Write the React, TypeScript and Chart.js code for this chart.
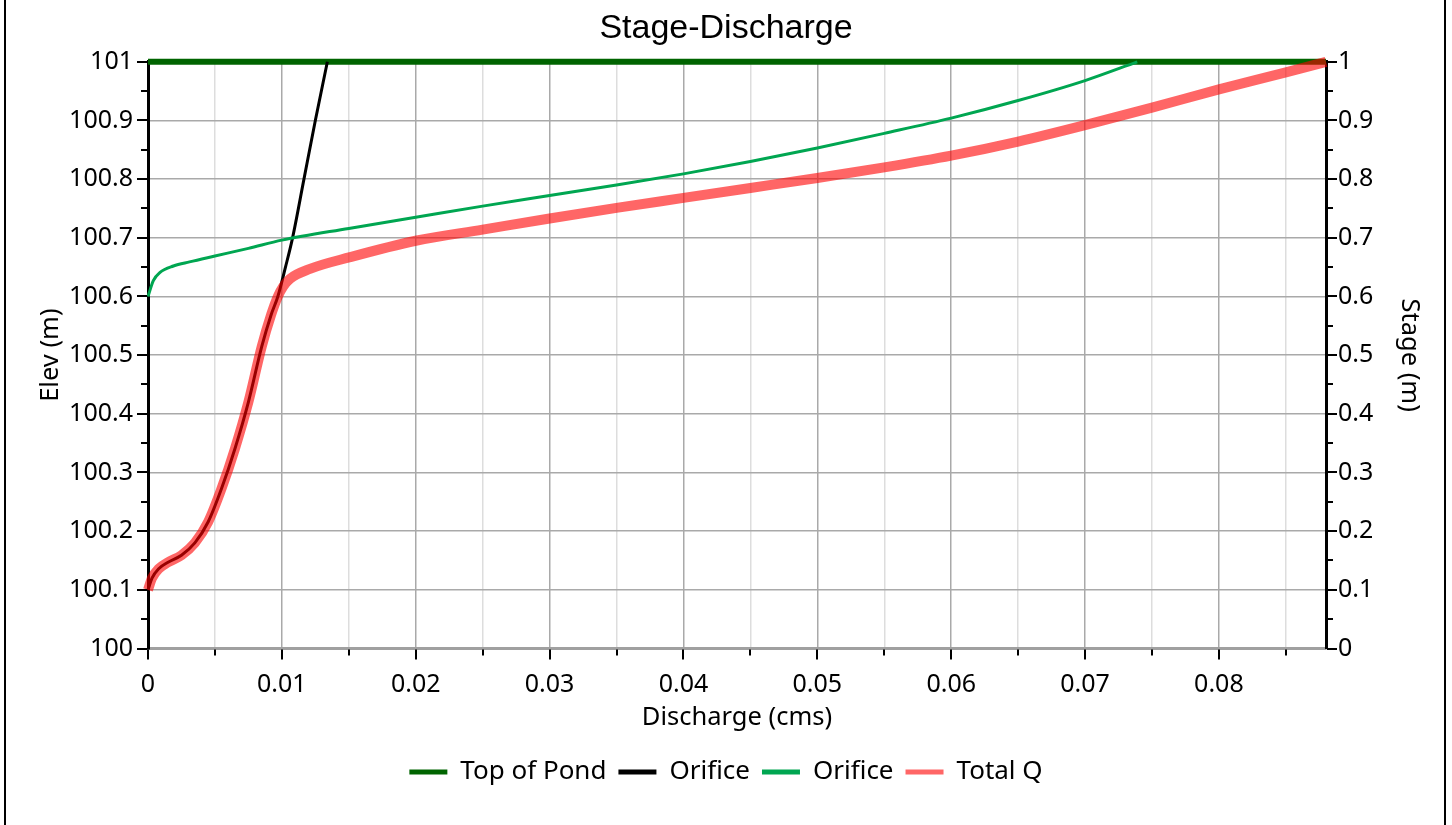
import { useEffect, useRef } from 'react';
import { Chart, registerables } from 'chart.js';

Chart.register(...registerables);

const chartTitle = 'Stage-Discharge';
const xAxisTitle = 'Discharge (cms)';
const yAxisTitle = 'Elev (m)';
const stageAxisTitle = 'Stage (m)';

const dischargeMin = 0;
const dischargeMax = 0.088;
const elevMin = 100;
const elevMax = 101;
const stageMin = 0;
const stageMax = 1;

// Top of pond elevation (m)
const pondTopElev = 101;

// Lower orifice rating: discharge (cms) against water surface elevation (m)
const lowOrificeQ = [0, 0.0003, 0.0008, 0.0015, 0.0025, 0.0035, 0.0045, 0.0055, 0.0065, 0.0075, 0.0085, 0.0092, 0.0097, 0.01027, 0.0108, 0.01165, 0.0125, 0.0134];
const lowOrificeElev = [100.1, 100.12, 100.136, 100.147, 100.159, 100.18, 100.216, 100.273, 100.341, 100.42, 100.515, 100.569, 100.6, 100.65, 100.7, 100.8, 100.9, 101];

// Upper orifice rating
const highOrificeQ = [0, 0.0004, 0.0009, 0.0019, 0.0031, 0.005, 0.0075, 0.01, 0.015, 0.02, 0.025, 0.03, 0.035, 0.04, 0.045, 0.05, 0.055, 0.06, 0.065, 0.07, 0.0739];
const highOrificeElev = [100.6, 100.627, 100.641, 100.652, 100.659, 100.669, 100.682, 100.696, 100.716, 100.735, 100.754, 100.772, 100.79, 100.809, 100.83, 100.853, 100.878, 100.904, 100.934, 100.968, 101];

// Combined outflow of both orifices
const totalQ = [0, 0.0003, 0.0008, 0.0015, 0.0025, 0.0035, 0.0045, 0.0055, 0.0065, 0.0075, 0.0085, 0.0092, 0.0097, 0.0101, 0.0106, 0.0121, 0.0151, 0.02, 0.025, 0.03, 0.035, 0.04, 0.045, 0.05, 0.055, 0.06, 0.065, 0.07, 0.075, 0.08, 0.085, 0.088];
const totalElev = [100.1, 100.12, 100.136, 100.147, 100.159, 100.18, 100.216, 100.273, 100.341, 100.42, 100.515, 100.569, 100.6, 100.617, 100.63, 100.647, 100.667, 100.695, 100.714, 100.733, 100.751, 100.768, 100.785, 100.802, 100.82, 100.84, 100.864, 100.892, 100.922, 100.953, 100.982, 101];

const seriesLabels = ['Top of Pond', 'Orifice', 'Orifice', 'Total Q'];
const seriesColors = ['#006400', '#000000', '#00a651', 'rgba(255, 0, 0, 0.6)'];
const legendColors = ['#006400', '#000000', '#00a651', '#ff6666'];

const toPoints = (xs: number[], ys: number[]) => xs.map((x, i) => ({ x, y: ys[i] }));

const FONT = "'Noto Sans', 'Open Sans', sans-serif";

// Draws outward tick marks: long at labelled values, short in between
const tickMarksPlugin = {
  id: 'tickMarks',
  afterDraw(chart: any) {
    const { ctx } = chart;
    const xs = chart.scales.x;
    const yl = chart.scales.y;
    const yr = chart.scales.y1;
    ctx.save();
    ctx.strokeStyle = '#000';
    ctx.lineWidth = 2;
    ctx.beginPath();
    xs.ticks.forEach((t: any) => {
      const p = Math.round(xs.getPixelForValue(t.value));
      const len = t.label ? 10 : 6;
      ctx.moveTo(p, xs.top + 1);
      ctx.lineTo(p, xs.top + 1 + len);
    });
    yl.ticks.forEach((t: any) => {
      const p = Math.round(yl.getPixelForValue(t.value));
      const len = t.label ? 10 : 6;
      ctx.moveTo(yl.right - 1, p);
      ctx.lineTo(yl.right - 1 - len, p);
    });
    yr.ticks.forEach((t: any) => {
      const p = Math.round(yr.getPixelForValue(t.value));
      const len = t.label ? 10 : 6;
      ctx.moveTo(yr.left + 1, p);
      ctx.lineTo(yr.left + 1 + len, p);
    });
    ctx.stroke();
    ctx.restore();
  },
};

const tenthLabel = (v: number, scale: number) => {
  const k = Math.round(Number(v) * scale);
  return k % 10 === 0 ? String(k / scale) : '';
};

export default function App() {
  const canvasRef = useRef<HTMLCanvasElement | null>(null);

  useEffect(() => {
    const canvas = canvasRef.current;
    if (!canvas) return;

    const chart = new Chart(canvas, {
      type: 'line',
      data: {
        datasets: [
          {
            label: seriesLabels[0],
            data: [
              { x: dischargeMin, y: pondTopElev },
              { x: dischargeMax, y: pondTopElev },
            ],
            borderColor: seriesColors[0],
            backgroundColor: seriesColors[0],
            borderWidth: 6,
            pointRadius: 0,
            clip: 8,
            order: 3,
          },
          {
            label: seriesLabels[1],
            data: toPoints(lowOrificeQ, lowOrificeElev),
            borderColor: seriesColors[1],
            backgroundColor: seriesColors[1],
            borderWidth: 3,
            pointRadius: 0,
            cubicInterpolationMode: 'monotone',
            clip: 8,
            order: 2,
          },
          {
            label: seriesLabels[2],
            data: toPoints(highOrificeQ, highOrificeElev),
            borderColor: seriesColors[2],
            backgroundColor: seriesColors[2],
            borderWidth: 3,
            pointRadius: 0,
            cubicInterpolationMode: 'monotone',
            clip: 8,
            order: 1,
          },
          {
            label: seriesLabels[3],
            data: toPoints(totalQ, totalElev),
            borderColor: seriesColors[3],
            backgroundColor: seriesColors[3],
            borderWidth: 10,
            pointRadius: 0,
            cubicInterpolationMode: 'monotone',
            clip: 8,
            order: 0,
          },
        ],
      },
      options: {
        responsive: false,
        animation: false,
        devicePixelRatio: 1,
        layout: { padding: { top: 0, bottom: 30, left: 0, right: 0 } },
        plugins: {
          tooltip: { enabled: false },
          title: {
            display: true,
            text: chartTitle,
            color: '#000',
            font: { family: "'Liberation Sans', Arial, sans-serif", size: 34, weight: 'normal' },
            padding: { top: 8, bottom: 13 },
          },
          legend: {
            position: 'bottom',
            labels: {
              color: '#000',
              font: { family: FONT, size: 26 },
              boxWidth: 38,
              boxHeight: 5,
              padding: 12,
              sort: (a: any, b: any) => a.datasetIndex - b.datasetIndex,
              generateLabels: (c: any) =>
                Chart.defaults.plugins.legend.labels.generateLabels(c).map((item: any) => ({
                  ...item,
                  fillStyle: legendColors[item.datasetIndex],
                  strokeStyle: legendColors[item.datasetIndex],
                  lineWidth: 0,
                })),
            },
          },
        },
        scales: {
          x: {
            type: 'linear',
            min: dischargeMin,
            max: dischargeMax,
            afterFit: (s: any) => {
              s.height = 98.5;
            },
            ticks: {
              stepSize: 0.005,
              includeBounds: false,
              autoSkip: false,
              maxRotation: 0,
              padding: 21,
              color: '#000',
              font: { family: FONT, size: 25 },
              callback: (v: any) => tenthLabel(v, 1000),
            },
            grid: {
              drawTicks: false,
              lineWidth: 1.5,
              color: (ctx: any) =>
                Math.round((ctx.tick?.value ?? 0) * 1000) % 10 === 0 ? '#a9a9a9' : '#dddddd',
            },
            border: { display: true, color: '#a0a0a0', width: 3 },
            title: {
              display: true,
              text: xAxisTitle,
              color: '#000',
              font: { family: FONT, size: 25.5 },
              padding: { top: 0, bottom: 14 },
            },
          },
          y: {
            type: 'linear',
            position: 'left',
            min: elevMin,
            max: elevMax,
            afterFit: (s: any) => {
              s.width = 148;
            },
            ticks: {
              stepSize: 0.05,
              autoSkip: false,
              padding: 15,
              color: '#000',
              font: { family: FONT, size: 25 },
              callback: (v: any) => tenthLabel(v, 100),
            },
            grid: {
              drawTicks: false,
              lineWidth: 1.5,
              color: (ctx: any) =>
                Math.round((ctx.tick?.value ?? 0) * 100) % 10 === 0 ? '#a9a9a9' : 'rgba(0,0,0,0)',
            },
            border: { display: true, color: '#000', width: 3 },
            title: {
              display: true,
              text: yAxisTitle,
              color: '#000',
              font: { family: FONT, size: 25.5 },
              padding: { top: 35, bottom: 0 },
            },
          },
          y1: {
            type: 'linear',
            position: 'right',
            min: stageMin,
            max: stageMax,
            afterFit: (s: any) => {
              s.width = 126;
            },
            ticks: {
              stepSize: 0.05,
              autoSkip: false,
              padding: 12,
              color: '#000',
              font: { family: FONT, size: 25 },
              callback: (v: any) => tenthLabel(v, 100),
            },
            grid: { drawTicks: false, drawOnChartArea: false },
            border: { display: true, color: '#000', width: 3 },
            title: {
              display: true,
              text: stageAxisTitle,
              color: '#000',
              font: { family: FONT, size: 25.5 },
              padding: { top: 27, bottom: 0 },
            },
          },
        },
      } as any,
      plugins: [tickMarksPlugin],
    });

    return () => chart.destroy();
  }, []);

  return (
    <div style={{ position: 'absolute', left: 0, top: 0, width: 1452, height: 825, background: '#fff', overflow: 'hidden' }}>
      <canvas ref={canvasRef} width={1452} height={825} style={{ display: 'block' }} />
      <div style={{ position: 'absolute', left: 4, top: 0, width: 2, height: 825, background: '#000' }} />
      <div style={{ position: 'absolute', left: 1444, top: 0, width: 2, height: 825, background: '#000' }} />
    </div>
  );
}
